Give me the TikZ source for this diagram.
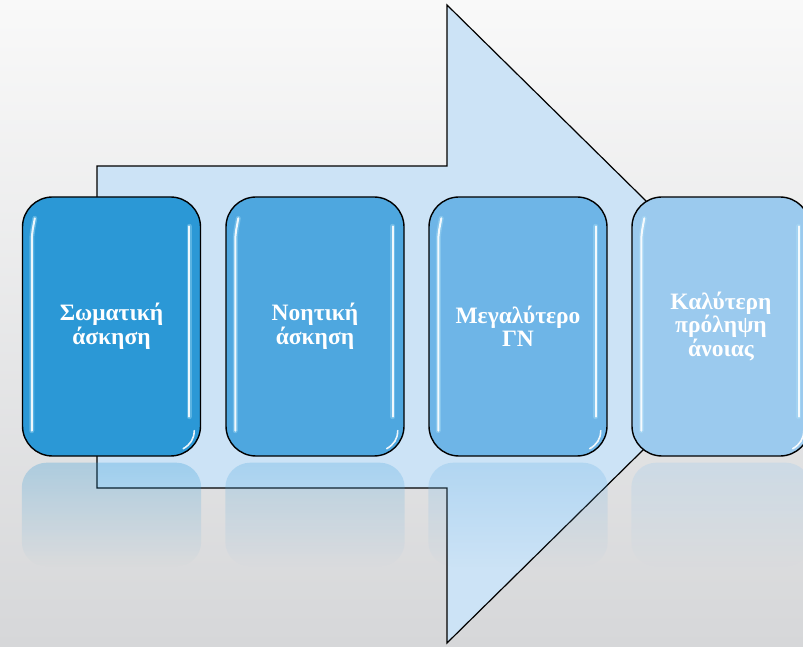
\documentclass[tikz,border=0pt]{standalone}
\usepackage{fontspec}
\setmainfont{Liberation Serif}
\usetikzlibrary{calc,fadings}
\definecolor{bgtop}{HTML}{F9F9F9}
\definecolor{bgbot}{HTML}{D6D7D9}
\definecolor{arrowfill}{HTML}{CCE3F6}
\definecolor{cA}{HTML}{2B98D6}
\definecolor{cB}{HTML}{4EA7DF}
\definecolor{cC}{HTML}{6EB5E7}
\definecolor{cD}{HTML}{9BCAEE}
\tikzfading[name=fadedown, top color=transparent!72, bottom color=transparent!100]
\tikzset{
  stepbox/.style={draw=black, line width=1.4pt, rounded corners=30pt,
    minimum width=178pt, minimum height=259pt, align=center, text=white,
    font=\bfseries\fontsize{23.5}{23.5}\selectfont, inner sep=4pt},
  bigarrow/.style={draw=black, line width=1.2pt, fill=arrowfill, line join=miter},
  glow/.style={white!70!cyan, line width=5pt, line cap=round, opacity=0.35},
  gloss/.style={white, line width=2pt, line cap=round, opacity=0.9}
}
\begin{document}
\begin{tikzpicture}[x=1pt,y=1pt]
\useasboundingbox (0,0) rectangle (803,646);
\clip (0,0) rectangle (803,646);
\shade[top color=bgtop, bottom color=bgbot] (0,0) rectangle (803,646);
% big arrow
\draw[bigarrow] (97,480) -- (447,480) -- (447,641) -- (771,322) -- (447,3) -- (447,158) -- (97,158) -- cycle;
% boxes
\node[stepbox, fill=cA] (b1) at (111.5,319.5) {Σωματική\\άσκηση};
\node[stepbox, fill=cB] (b2) at (315,319.5) {Νοητική\\άσκηση};
\node[stepbox, fill=cC] (b3) at (518,319.5) {Μεγαλύτερο\\ΓΝ};
\node[stepbox, fill=cD] (b4) at (721,319.5) {Καλύτερη\\πρόληψη\\άνοιας};
% reflections and gloss
\foreach \b/\c in {b1/cA,b2/cB,b3/cC,b4/cD}{
  \fill[\c, path fading=fadedown, rounded corners=25pt]
    ($(\b.south west)+(0,-6)$) rectangle ($(\b.south east)+(0,-110)$);
  \draw[glow] ($(\b.north west)+(13,-22)$) to[out=-100,in=90] ($(\b.north west)+(10,-45)$) -- ($(\b.south west)+(10,26)$);
  \draw[gloss] ($(\b.north west)+(13,-22)$) to[out=-100,in=90] ($(\b.north west)+(10,-45)$) -- ($(\b.south west)+(10,26)$);
  \draw[glow] ($(\b.north east)+(-12,-30)$) -- ($(\b.south east)+(-12,40)$);
  \draw[gloss] ($(\b.north east)+(-12,-30)$) -- ($(\b.south east)+(-12,40)$);
  \draw[gloss, line width=1.6pt] ($(\b.south east)+(-7,26)$) to[out=-90,in=30] ($(\b.south east)+(-18,8)$);
}
\end{tikzpicture}
\end{document}
